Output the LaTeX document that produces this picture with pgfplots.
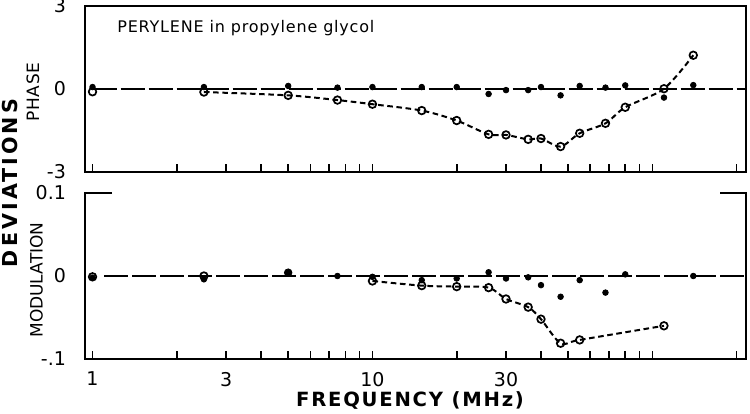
\documentclass[border=0pt]{standalone}
\usepackage{fontspec}
\setmainfont{DejaVu Sans}
\usepackage{pgfplots}
\pgfplotsset{compat=1.18}
\begin{document}
\begin{tikzpicture}[x=1pt,y=1pt]
\path[use as bounding box] (0,0) rectangle (375,206.5);
% ---------- PHASE ----------
\begin{axis}[xmode=log, xmin=0.94, xmax=216,
  scale only axis, width=330.5pt, height=83pt,
  at={(42.5pt,120.5pt)}, anchor=south west, clip=false,
  xtick={1,3,10,30},
  minor xtick={2,4,5,6,7,8,9,20,40,50,60,70,80,90,100,200},
  xtick pos=left, ytick pos=left,
  major tick length=4pt, minor tick length=4pt,
  every tick/.style={line width=0.8pt, black},
  every major y tick/.style={draw=none},
  axis line style={line width=1pt},
  tick label style={font=\fontsize{9.5}{11}\selectfont},
  yticklabel style={anchor=east, xshift=-6pt},
  xticklabel style={anchor=north, yshift=-3pt},
  ymin=-3, ymax=3, ytick={-3,0,3}, yticklabels={-3,0,3},
  xticklabels={,,,}]
\addplot[line width=0.9pt, dash pattern=on 12pt off 2pt] coordinates {(1,0) (216,0)};
\addplot[line width=1pt, dash pattern=on 2.8pt off 1.8pt, smooth, tension=0.5] coordinates {
 (2.5,-0.11) (5,-0.23) (7.5,-0.40) (10,-0.55) (15,-0.78) (20,-1.14)
 (26,-1.64) (30,-1.66) (36,-1.82) (40,-1.79) (47,-2.08) (55,-1.60)
 (68,-1.24) (80,-0.66) (110,0.01) (140,1.22)};
\addplot[only marks, mark=*, mark size=1.4pt] coordinates {
 (1,0.07) (2.5,0.07) (5,0.11) (7.5,0.05) (10,0.07) (15,0.07) (20,0.07)
 (26,-0.18) (30,-0.04) (36,-0.04) (40,0.07) (47,-0.23) (55,0.11)
 (68,0.05) (80,0.13) (110,-0.31) (140,0.14)};
\addplot[only marks, mark=o, mark size=1.9pt, mark options={line width=0.85pt, fill=white}] coordinates {
 (1,-0.10) (2.5,-0.11) (5,-0.23) (7.5,-0.40) (10,-0.55) (15,-0.78) (20,-1.14)
 (26,-1.64) (30,-1.66) (36,-1.82) (40,-1.79) (47,-2.08) (55,-1.60)
 (68,-1.24) (80,-0.66) (110,0.01) (140,1.22)};
\end{axis}
% ---------- MODULATION ----------
\begin{axis}[xmode=log, xmin=0.94, xmax=216,
  scale only axis, width=330.5pt, height=83pt,
  at={(42.5pt,27pt)}, anchor=south west, clip=false,
  xtick={1,3,10,30},
  minor xtick={2,4,5,6,7,8,9,20,40,50,60,70,80,90,100,200},
  xtick pos=left, ytick pos=left,
  major tick length=4pt, minor tick length=4pt,
  every tick/.style={line width=0.8pt, black},
  every major y tick/.style={draw=none},
  axis line style={draw=none},
  tick label style={font=\fontsize{9.5}{11}\selectfont},
  yticklabel style={anchor=east, xshift=-6pt},
  xticklabel style={anchor=north, yshift=-3pt},
  ymin=-0.1, ymax=0.1, ytick={-0.1,0,0.1}, yticklabels={-.1,0,0.1},
  xticklabels={1,3,10,30}]
\draw[line width=1pt] (rel axis cs:0.041,1) -- (rel axis cs:0,1) -- (rel axis cs:0,0)
  -- (rel axis cs:1,0) -- (rel axis cs:1,1) -- (rel axis cs:0.961,1);
\addplot[line width=0.9pt, dash pattern=on 12pt off 2pt] coordinates {(1.1,0) (216,0)};
\addplot[line width=1pt, dash pattern=on 2.8pt off 1.8pt, smooth, tension=0.5] coordinates {
 (10,-0.006) (15,-0.0116) (20,-0.0128) (26,-0.014) (30,-0.0277)
 (36,-0.0375) (40,-0.052) (47,-0.081) (55,-0.077) (110,-0.060)};
\addplot[only marks, mark=*, mark size=1.4pt] coordinates {
 (1,-0.002) (2.5,-0.004) (7.5,0) (10,-0.001) (15,-0.005) (20,-0.003)
 (26,0.0045) (30,-0.003) (36,-0.0016) (40,-0.011) (47,-0.025) (55,-0.005)
 (68,-0.020) (80,0.002) (140,0)};
\addplot[only marks, mark=*, mark size=1.9pt] coordinates {(5,0.004)};
\addplot[only marks, mark=o, mark size=1.9pt, mark options={line width=0.85pt, fill=white}] coordinates {
 (1,-0.001) (2.5,0) (10,-0.006) (15,-0.0116) (20,-0.0128) (26,-0.014)
 (30,-0.0277) (36,-0.0375) (40,-0.052) (47,-0.081) (55,-0.077) (110,-0.060)};
\end{axis}
% ---------- labels ----------
\node[rotate=90, font=\fontsize{10.3}{12}\selectfont\bfseries\addfontfeature{LetterSpace=15}, inner sep=0pt] at (5,115) {DEVIATIONS};
\node[rotate=90, font=\fontsize{8.5}{10}\selectfont\addfontfeature{LetterSpace=4}, inner sep=0pt] at (16.5,160.5) {PHASE};
\node[rotate=90, font=\fontsize{8.5}{10}\selectfont, inner sep=0pt] at (18.25,66.5) {MODULATION};
\node[anchor=base west, font=\fontsize{8}{9}\selectfont\addfontfeature{LetterSpace=5}, inner sep=0pt] at (58.5,190) {PERYLENE in propylene glycol};
\node[anchor=base, font=\fontsize{9.8}{11}\selectfont\bfseries\addfontfeature{LetterSpace=9}, inner sep=0pt] at (205,3.5) {FREQUENCY (MHz)};
\end{tikzpicture}
\end{document}
